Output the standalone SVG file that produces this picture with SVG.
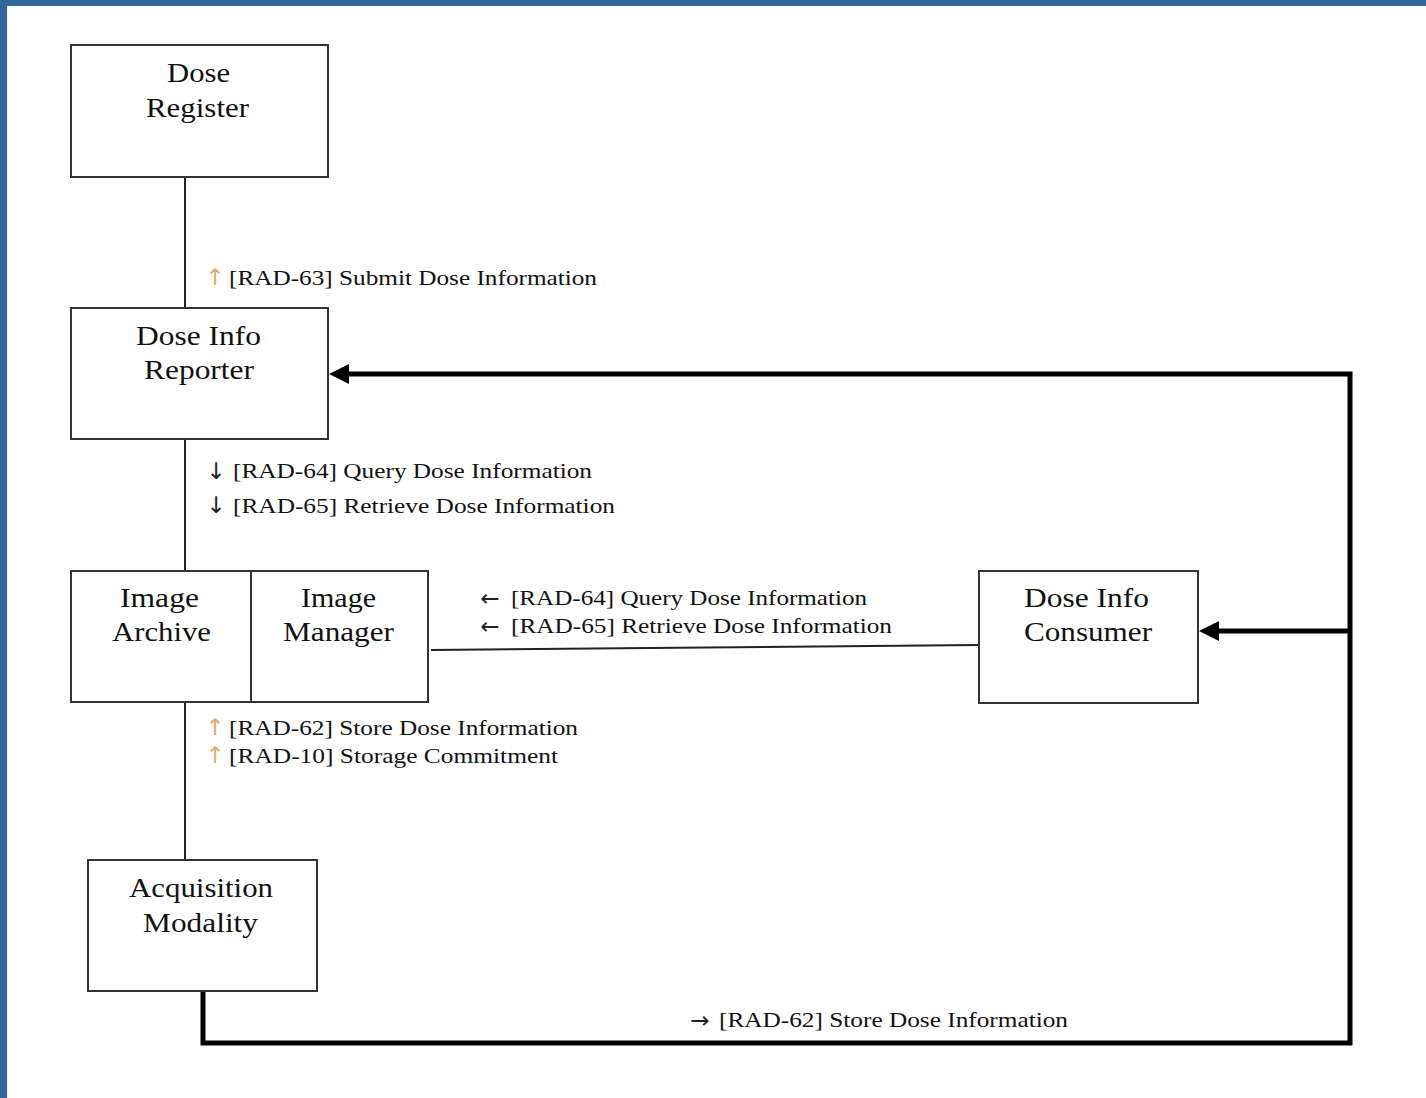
<svg xmlns="http://www.w3.org/2000/svg" width="1426" height="1098" viewBox="0 0 1426 1098">
<style>
.box{fill:#fff;stroke:#333;stroke-width:2}
.thin{fill:none;stroke:#222;stroke-width:2}
.thick{fill:none;stroke:#000;stroke-width:5}
.nl{font-family:"Liberation Serif","Times New Roman",serif;font-size:28px;fill:#111}
.lb{font-family:"Liberation Serif","Times New Roman",serif;font-size:21px;fill:#111}
.up{font-family:"DejaVu Sans",sans-serif;font-size:23px;fill:#e6aa6a}
.ar{font-family:"DejaVu Sans",sans-serif;font-size:23px;fill:#222}
</style>
<defs>
<marker id="ah" markerWidth="20" markerHeight="20" refX="0" refY="10" orient="auto" markerUnits="userSpaceOnUse">
<path d="M0,0 L20,10 L0,20 Z" fill="#000"/>
</marker>
</defs>
<rect x="0" y="0" width="1426" height="1098" fill="#fff"/>
<rect x="0" y="0" width="1426" height="6" fill="#336699"/>
<rect x="0" y="0" width="7" height="1098" fill="#336699"/>

<g id="connectors">
<line class="thin" x1="185" y1="177" x2="185" y2="308"/>
<line class="thin" x1="185" y1="440" x2="185" y2="572"/>
<line class="thin" x1="185" y1="703" x2="185" y2="860"/>
<line class="thin" x1="431" y1="650" x2="979" y2="645"/>
<polyline class="thick" points="203,989 203,1043 1350,1043 1350,374 349,374" marker-end="url(#ah)"/>
<line class="thick" x1="1350" y1="631" x2="1219" y2="631" marker-end="url(#ah)"/>
<g id="labels">
<text class="up" x="215" y="285" text-anchor="middle">↑</text>
<text class="lb" x="229" y="285" textLength="368" lengthAdjust="spacingAndGlyphs">[RAD-63] Submit Dose Information</text>
<text class="ar" x="216" y="479" text-anchor="middle">↓</text>
<text class="lb" x="233" y="478" textLength="359" lengthAdjust="spacingAndGlyphs">[RAD-64] Query Dose Information</text>
<text class="ar" x="216" y="513" text-anchor="middle">↓</text>
<text class="lb" x="233" y="513" textLength="382" lengthAdjust="spacingAndGlyphs">[RAD-65] Retrieve Dose Information</text>
<text class="ar" x="490" y="606" text-anchor="middle">←</text>
<text class="lb" x="511" y="605" textLength="356" lengthAdjust="spacingAndGlyphs">[RAD-64] Query Dose Information</text>
<text class="ar" x="490" y="634" text-anchor="middle">←</text>
<text class="lb" x="511" y="633" textLength="381" lengthAdjust="spacingAndGlyphs">[RAD-65] Retrieve Dose Information</text>
<text class="up" x="215" y="735" text-anchor="middle">↑</text>
<text class="lb" x="229" y="735" textLength="349" lengthAdjust="spacingAndGlyphs">[RAD-62] Store Dose Information</text>
<text class="up" x="215" y="763" text-anchor="middle">↑</text>
<text class="lb" x="229" y="763" textLength="329" lengthAdjust="spacingAndGlyphs">[RAD-10] Storage Commitment</text>
<text class="ar" x="700" y="1028" text-anchor="middle">→</text>
<text class="lb" x="719" y="1027" textLength="349" lengthAdjust="spacingAndGlyphs">[RAD-62] Store Dose Information</text>
</g>
</g>

<g id="dose-register">
<rect class="box" x="71" y="45" width="257" height="132"/>
<text class="nl" x="167" y="82" textLength="63" lengthAdjust="spacingAndGlyphs">Dose</text>
<text class="nl" x="146" y="117" textLength="103" lengthAdjust="spacingAndGlyphs">Register</text>
</g>

<g id="dose-info-reporter">
<rect class="box" x="71" y="308" width="257" height="131"/>
<text class="nl" x="136" y="345" textLength="125" lengthAdjust="spacingAndGlyphs">Dose Info</text>
<text class="nl" x="144" y="379" textLength="110" lengthAdjust="spacingAndGlyphs">Reporter</text>
</g>

<g id="image-archive">
<rect class="box" x="71" y="571" width="180" height="131"/>
<text class="nl" x="120" y="607" textLength="79" lengthAdjust="spacingAndGlyphs">Image</text>
<text class="nl" x="112" y="641" textLength="99" lengthAdjust="spacingAndGlyphs">Archive</text>
</g>

<g id="image-manager">
<rect class="box" x="251" y="571" width="177" height="131"/>
<text class="nl" x="301" y="607" textLength="75" lengthAdjust="spacingAndGlyphs">Image</text>
<text class="nl" x="283" y="641" textLength="111" lengthAdjust="spacingAndGlyphs">Manager</text>
</g>

<g id="dose-info-consumer">
<rect class="box" x="979" y="571" width="219" height="132"/>
<text class="nl" x="1024" y="607" textLength="125" lengthAdjust="spacingAndGlyphs">Dose Info</text>
<text class="nl" x="1024" y="641" textLength="128" lengthAdjust="spacingAndGlyphs">Consumer</text>
</g>

<g id="acquisition-modality">
<rect class="box" x="88" y="860" width="229" height="131"/>
<text class="nl" x="129" y="897" textLength="144" lengthAdjust="spacingAndGlyphs">Acquisition</text>
<text class="nl" x="143" y="932" textLength="115" lengthAdjust="spacingAndGlyphs">Modality</text>
</g>
</svg>
